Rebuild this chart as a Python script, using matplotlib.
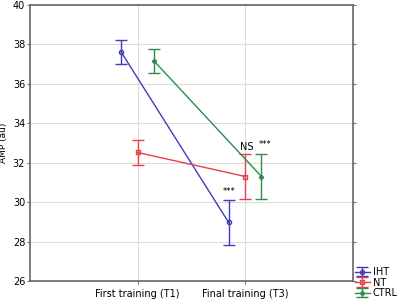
import matplotlib
matplotlib.use("Agg")
import matplotlib.pyplot as plt

times = ["First training (T1)", "Final training (T3)"]
groups = ["IHT", "NT", "CTRL"]
means = {"IHT": [37.63, 28.97], "NT": [32.52, 31.30], "CTRL": [37.17, 31.30]}
errs = {"IHT": [0.62, 1.14], "NT": [0.62, 1.14], "CTRL": [0.62, 1.14]}
colors = {"IHT": "#3c3cc0", "NT": "#e8404a", "CTRL": "#2e8b4a"}
markers = {"IHT": "o", "NT": "s", "CTRL": "D"}
offsets = {"IHT": -0.155, "NT": 0.0, "CTRL": 0.15}
yticks = [26, 28, 30, 32, 34, 36, 38, 40]

fig = plt.figure(figsize=(4.01, 2.99), dpi=100)
ax = fig.add_axes([30/401, 1-281/299, 323/401, 276/299])
ax.set_xlim(0, 3)
ax.set_ylim(26, 40)
ax.set_yticks(yticks)
ax.set_xticks([1, 2])
ax.set_xticklabels(times, fontsize=7)
ax.tick_params(axis='y', labelsize=7, right=True, direction='out', length=2, pad=1.5, color='#777777')
ax.tick_params(axis='x', length=2, color='#777777')
ax.grid(True, color='#dcdcdc', linewidth=0.8)
ax.set_axisbelow(True)
for s in ax.spines.values():
    s.set_color('#666666')
    s.set_linewidth(1.2)
ax.set_ylabel("AMP (au)", fontsize=6.5)
ax.yaxis.set_label_coords(-0.068, 0.5)

for g in groups:
    xs = [i + 1 + offsets[g] for i in range(len(times))]
    ax.errorbar(xs, means[g], yerr=errs[g], color=colors[g], marker=markers[g],
                markersize=3 if g != "CTRL" else 2.2, markerfacecolor='none' if g != "CTRL" else colors[g],
                linewidth=1, capsize=4, capthick=1, elinewidth=1, label=g)

ax.text(2 + offsets["IHT"], 30.3, "***", ha='center', va='bottom', fontsize=6)
ax.text(2 + 0.01, 32.55, "NS", ha='center', va='bottom', fontsize=7)
ax.text(2 + 0.18, 32.7, "***", ha='center', va='bottom', fontsize=6)

leg = ax.legend(loc='lower left', bbox_to_anchor=(355/401, 1/299), bbox_transform=fig.transFigure,
                fontsize=7, frameon=False, handlelength=1.5, handletextpad=0.3,
                labelspacing=0.05, borderaxespad=0, borderpad=0)

fig.savefig("out.png", dpi=100)
